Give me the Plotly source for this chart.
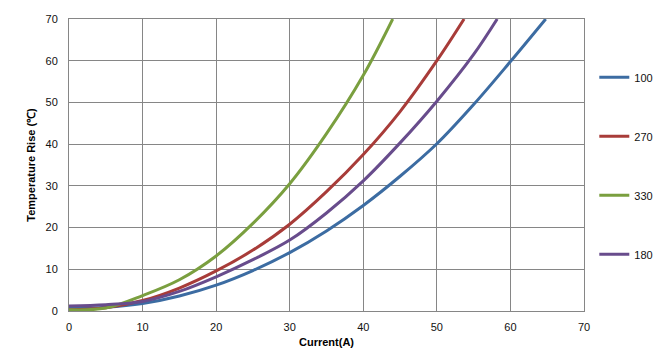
import plotly.graph_objects as go

# Current (A) sample points and temperature rise (℃)
x_100 = [0, 5, 10, 15, 20, 25, 30, 35, 40, 45, 50, 55, 60, 64.8]
y_100 = [0.6, 0.9, 1.8, 3.6, 6.2, 9.7, 14.0, 19.2, 25.3, 32.3, 40.1, 49.5, 59.8, 70]

x_270 = [0, 5, 10, 15, 20, 25, 30, 35, 40, 45, 50, 53.7]
y_270 = [0.3, 0.8, 2.5, 5.5, 9.6, 14.6, 20.8, 28.6, 37.5, 47.8, 60.0, 70]

x_330 = [0, 5, 10, 15, 20, 25, 30, 35, 40, 44]
y_330 = [0.3, 0.7, 3.7, 7.5, 13.2, 21.0, 30.5, 42.5, 56.5, 70]

x_180 = [0, 5, 10, 15, 20, 25, 30, 35, 40, 45, 50, 55, 58.2]
y_180 = [1.2, 1.5, 2.3, 4.7, 8.2, 12.3, 17.0, 23.5, 31.2, 40.3, 50.3, 61.5, 70]

series = [
    ("100", x_100, y_100, "#3C6CA2"),
    ("270", x_270, y_270, "#A83C39"),
    ("330", x_330, y_330, "#7A9F3F"),
    ("180", x_180, y_180, "#684C8C"),
]

x_ticks = [0, 10, 20, 30, 40, 50, 60, 70]
y_ticks = [0, 10, 20, 30, 40, 50, 60, 70]

fig = go.Figure()
for name, xs, ys, col in series:
    fig.add_trace(go.Scatter(
        x=xs, y=ys, name=name, mode="lines",
        line=dict(color=col, width=3, shape="spline", smoothing=1.0),
        legendgroup=name,
    ))

tick_font = dict(family="Liberation Sans, Arial", size=11, color="#111")
axis_common = dict(
    showgrid=True, gridcolor="#868686", gridwidth=1,
    showline=True, linecolor="#868686", linewidth=1, mirror=True,
    zeroline=False, ticks="", tickfont=tick_font, automargin=False,
)

# page body has an 8px margin, so the figure is sized to fit the window
fig.update_layout(
    width=662, height=356,
    margin=dict(l=61, r=86, t=11, b=53, autoexpand=False),
    paper_bgcolor="white", plot_bgcolor="white",
    font=dict(family="Liberation Sans, Arial", size=11, color="#111"),
    xaxis=dict(range=[0, 70], tickvals=x_ticks, ticktext=[str(v) for v in x_ticks],
               ticklabelstandoff=6,
               title=dict(text="<b>Current(A)</b>", font=dict(size=11, color="#000"), standoff=6),
               **axis_common),
    yaxis=dict(range=[0, 70], tickvals=y_ticks, ticktext=[str(v) for v in y_ticks],
               ticklabelstandoff=8,
               title=dict(text="<b>Temperature Rise (℃)</b>", font=dict(size=11, color="#000"), standoff=7),
               **axis_common),
    legend=dict(x=1.02, xanchor="left", y=0.85, yanchor="top",
                tracegroupgap=40, itemwidth=30,
                font=dict(size=11, color="#111"), bgcolor="rgba(0,0,0,0)"),
    showlegend=True,
)

fig.write_html("out.html")
